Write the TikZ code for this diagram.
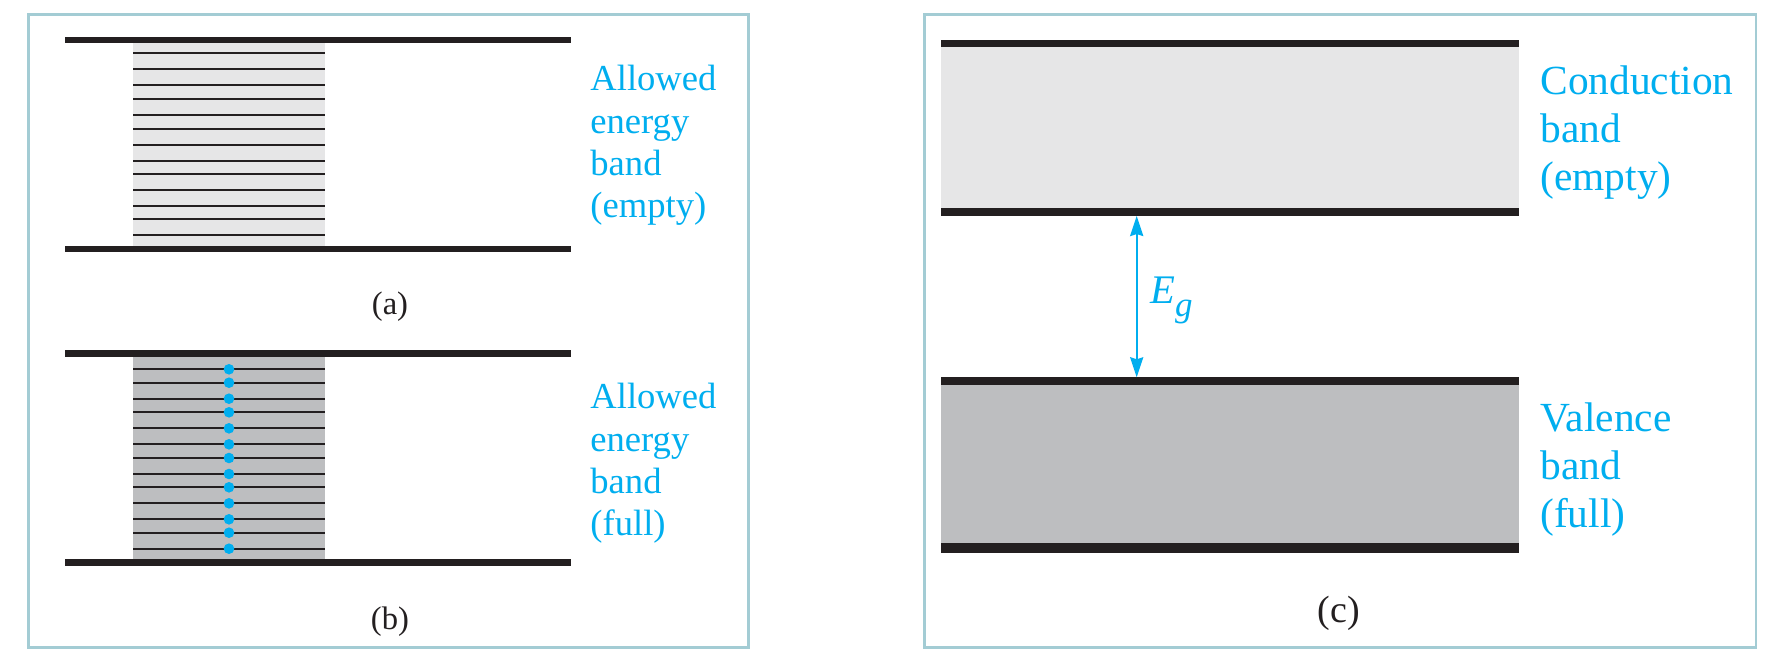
\documentclass[tikz,border=0pt]{standalone}
\usepackage{fontspec}
\setmainfont{Liberation Serif}
\usetikzlibrary{arrows.meta}
\definecolor{framec}{HTML}{A3CCD4}
\definecolor{cyanc}{HTML}{00AEEF}
\definecolor{inkc}{HTML}{231F20}
\definecolor{lightg}{HTML}{E6E6E7}
\definecolor{darkg}{HTML}{BDBEC0}
\tikzset{
  panel/.style={draw=framec, line width=1.35pt},
  edgebar/.style={fill=inkc},
  level/.style={draw=inkc, line width=1pt},
  bandtext/.style={text=cyanc, align=left, anchor=north west, inner sep=0pt, font=\fontsize{18.3}{21.15}\selectfont},
  bigtext/.style={text=cyanc, align=left, anchor=north west, inner sep=0pt, font=\fontsize{20.7}{24.15}\selectfont},
  caption/.style={text=inkc, anchor=base, inner sep=0pt},
  electron/.style={circle, fill=cyanc, inner sep=0pt, minimum size=5.3pt},
  gaparrow/.style={draw=cyanc, line width=1.1pt, {Stealth[length=10pt,width=6.5pt,inset=1pt]}-{Stealth[length=10pt,width=6.5pt,inset=1pt]}}
}
\begin{document}
\begin{tikzpicture}[x=0.5pt,y=-0.5pt]
\useasboundingbox (0,0) rectangle (1786,658);
\fill[white] (0,0) rectangle (1786,658);
% frames
\draw[panel] (28.7,14.7) rectangle (748.7,647.3);
\draw[panel] (924.3,14.7) rectangle (1756,647.3);
% ---------- (a) ----------
\fill[lightg] (133,43.5) rectangle (325,246);
\foreach \y in {53.3,69.3,85.3,99,115,128.7,144.7,160.7,174,190,206,219.3,235.3}
  \draw[level] (133,\y) -- (325,\y);
\fill[edgebar] (65,36.7) rectangle (570.7,43.5);
\fill[edgebar] (65,246) rectangle (570.7,252.3);
\node[bandtext] (ta) at (590,65) {Allowed\\energy\\band\\(empty)};
\node[caption, font=\fontsize{16.3}{19}\selectfont] (capa) at (390,314) {(a)};
% ---------- (b) ----------
\fill[darkg] (133,356.7) rectangle (325,559.3);
\foreach \y [count=\i] in {369.3,382.7,398.7,412.3,428.3,444.3,458,474,487.3,503.3,519.3,532.7,548.7}{
  \draw[level] (133,\y) -- (325,\y);
  \node[electron] (e\i) at (229,\y) {};
}
\fill[edgebar] (65,350.4) rectangle (570.7,356.7);
\fill[edgebar] (65,559.3) rectangle (570.7,566);
\node[bandtext] (tb) at (590,383) {Allowed\\energy\\band\\(full)};
\node[caption, font=\fontsize{16.3}{19}\selectfont] (capb) at (390,629) {(b)};
% ---------- (c) ----------
\fill[lightg] (941.4,47.3) rectangle (1519.3,208.3);
\fill[darkg] (941.4,385) rectangle (1519.3,543.3);
\fill[edgebar] (941.4,40) rectangle (1519.3,47.3);
\fill[edgebar] (941.4,208.3) rectangle (1519.3,216);
\fill[edgebar] (941.4,377.3) rectangle (1519.3,385);
\fill[edgebar] (941.4,543.3) rectangle (1519.3,553.3);
\coordinate (cbot) at (1136.7,216);
\coordinate (vtop) at (1136.7,377.3);
\draw[gaparrow] (cbot) -- (vtop);
\node[text=cyanc, anchor=base west, inner sep=0pt, font=\fontsize{20.3}{24}\selectfont] (eg) at (1150,303.3)
  {\textit{E}\raisebox{-6.5pt}{\fontsize{17.5}{20}\selectfont\textit{g}}};
\node[bigtext] (tc) at (1540,65) {Conduction\\band\\(empty)};
\node[bigtext] (tv) at (1540,402.2) {Valence\\band\\(full)};
\node[caption, font=\fontsize{19}{22}\selectfont] (capc) at (1339,622.5) {(c)};
\end{tikzpicture}
\end{document}
